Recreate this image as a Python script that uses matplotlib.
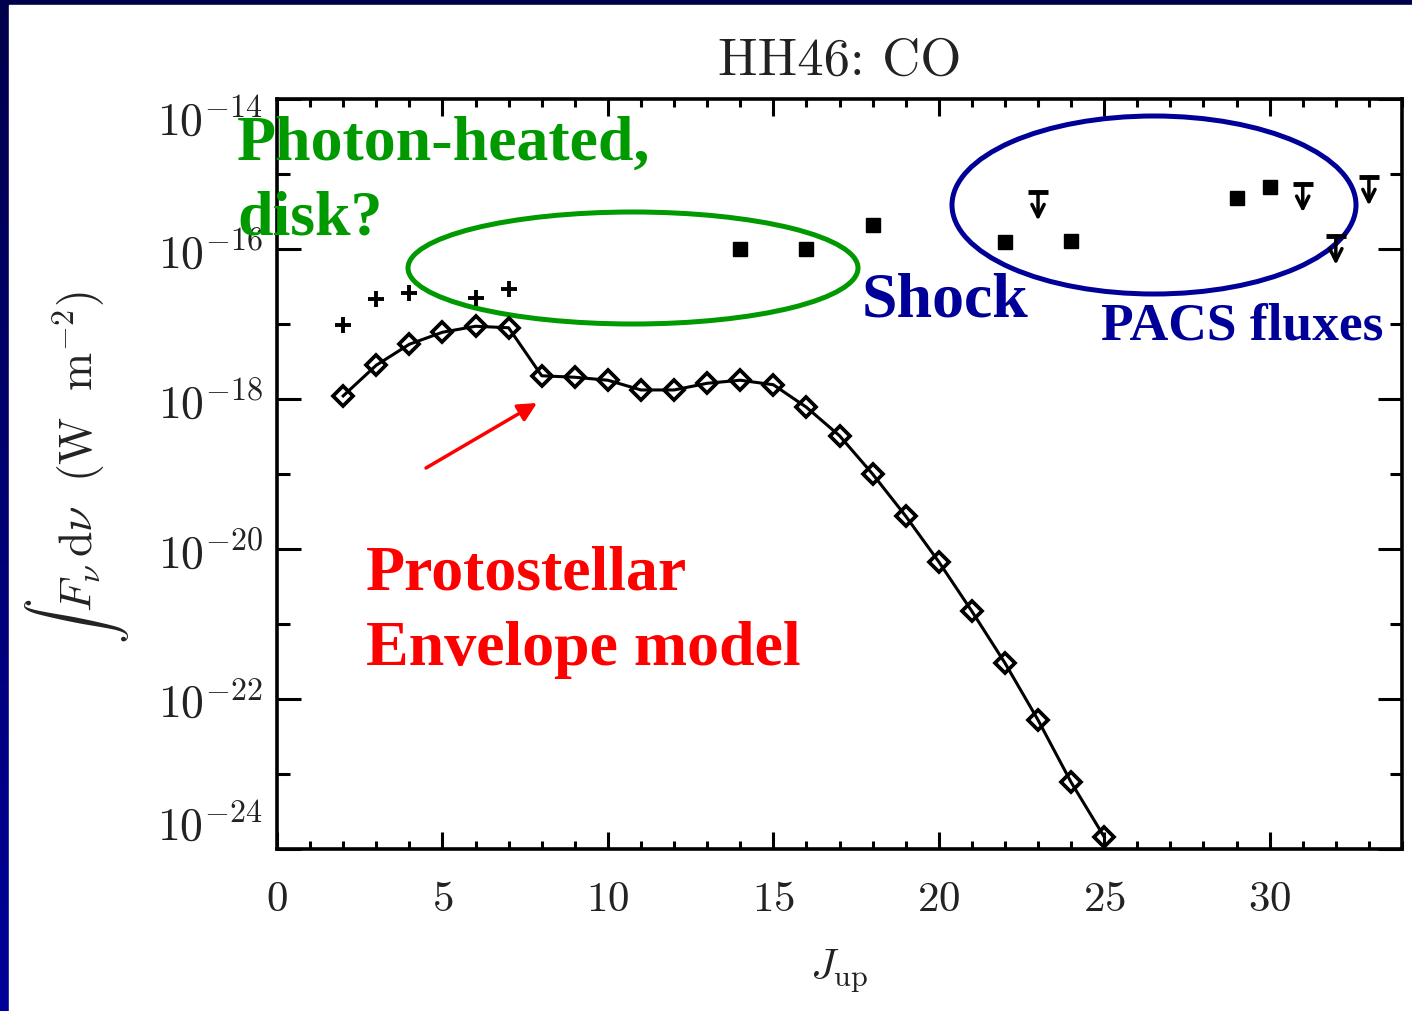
import numpy as np
import matplotlib.pyplot as plt
from matplotlib.patches import Ellipse, Rectangle
from matplotlib.colors import LinearSegmentedColormap
from matplotlib.ticker import FixedLocator, NullFormatter, MultipleLocator

plt.rcParams['mathtext.fontset'] = 'cm'

# Envelope model (connected diamonds)
j_model = [2, 3, 4, 5, 6, 7, 8, 9, 10, 11, 12, 13, 14, 15, 16, 17, 18, 19, 20, 21, 22, 23, 24, 25]
flux_model = [1.10e-18, 2.82e-18, 5.37e-18, 7.76e-18, 9.33e-18, 8.91e-18, 2.04e-18, 1.95e-18,
              1.78e-18, 1.32e-18, 1.32e-18, 1.62e-18, 1.78e-18, 1.55e-18, 7.76e-19, 3.24e-19,
              1.00e-19, 2.75e-20, 6.76e-21, 1.48e-21, 3.02e-22, 5.25e-23, 7.76e-24, 1.45e-24]

# Ground-based low-J observations (+)
j_ground = [2, 3, 4, 6, 7]
flux_ground = [9.8e-18, 2.14e-17, 2.57e-17, 2.24e-17, 2.95e-17]

# PACS detections (filled squares)
j_pacs = [14, 16, 18, 22, 24, 29, 30]
flux_pacs = [1.0e-16, 1.0e-16, 2.09e-16, 1.23e-16, 1.29e-16, 4.79e-16, 6.76e-16]

# PACS upper limits
j_lim = [23, 31, 32, 33]
flux_lim = [5.75e-16, 7.41e-16, 1.48e-16, 9.12e-16]

y_major = [1e-24, 1e-22, 1e-20, 1e-18, 1e-16, 1e-14]
y_major_labels = [r'$10^{-24}$', r'$10^{-22}$', r'$10^{-20}$', r'$10^{-18}$', r'$10^{-16}$', r'$10^{-14}$']
y_minor = [1e-23, 1e-21, 1e-19, 1e-17, 1e-15]
x_major = [0, 5, 10, 15, 20, 25, 30]

W, H = 1412, 1012
AX_L, AX_R, AX_T, AX_B = 277, 1402, 100, 850


def px(x, y):
    # pixel position in the picture -> axes fraction
    return (x - AX_L) / (AX_R - AX_L), (AX_B - y) / (AX_B - AX_T)


fig = plt.figure(figsize=(W / 100, H / 100), dpi=100)

# dark blue slide border
bg = fig.add_axes([0, 0, 1, 1], zorder=-10)
bg.set_axis_off()
cmap = LinearSegmentedColormap.from_list('border', ['#000099', '#00004c'])
bg.imshow(np.linspace(0, 1, 256).reshape(-1, 1), cmap=cmap, extent=[0, 1, 0, 1],
          aspect='auto', origin='lower')
bg.add_patch(Rectangle((9 / W, 0), 1, 1 - 6 / H, color='white'))
bg.set_xlim(0, 1)
bg.set_ylim(0, 1)

ax = fig.add_axes([AX_L / W, 1 - AX_B / H, (AX_R - AX_L) / W, (AX_B - AX_T) / H])
ax.set_yscale('log')
ax.set_xlim(0, 34)
ax.set_ylim(1e-24, 1e-14)

ax.plot(j_model, flux_model, color='black', lw=2.2, marker='D', ms=10, mfc='none',
        mec='black', mew=2.7, clip_on=False, zorder=3)
ax.plot(j_ground, flux_ground, ls='none', marker='+', ms=12, mew=2.8, color='black')
ax.plot(j_pacs, flux_pacs, ls='none', marker='s', ms=10, color='black')
ax.plot(j_lim, flux_lim, ls='none', marker='_', ms=14, mew=3.5, color='black')
for j, f in zip(j_lim, flux_lim):
    ax.annotate('', xy=(j, f * 10 ** -0.38), xytext=(j, f),
                arrowprops=dict(arrowstyle='->', color='black', lw=2.5, mutation_scale=22,
                                shrinkA=0, shrinkB=0))

# ticks
ax.set_yticks(y_major)
ax.set_yticklabels(y_major_labels)
ax.yaxis.set_minor_locator(FixedLocator(y_minor))
ax.yaxis.set_minor_formatter(NullFormatter())
ax.set_xticks(x_major)
ax.set_xticklabels([r'$%d$' % v for v in x_major])
ax.xaxis.set_minor_locator(MultipleLocator(1))
ax.tick_params(which='both', direction='in', top=True, right=True, width=2.2,
               labelsize=31, labelcolor='#222222')
ax.tick_params(axis='y', which='major', length=17, pad=10, labelsize=33)
ax.tick_params(axis='y', which='minor', length=9)
ax.tick_params(axis='x', which='major', length=12, pad=20)
ax.tick_params(axis='x', which='minor', length=6)
labs = ax.get_yticklabels()
labs[0].set_va('bottom')
labs[-1].set_va('top')
for s in ax.spines.values():
    s.set_linewidth(2.6)

ax.set_title('HH46: CO', family='cmr10', fontsize=38, pad=18, color='#222222')
ax.set_xlabel(r'$J_{\rm up}$', fontsize=31, color='#222222')
ax.xaxis.set_label_coords(0.5, -0.13)
ax.set_ylabel(r'$\int\, F_\nu\,{\rm d}\nu\ \ ({\rm W\ \ m}^{-2})$', fontsize=33, color='#222222')
ax.yaxis.set_label_coords(-0.13, 0.51)

# annotations
green = '#009900'
navy = '#000099'
red = '#ff0000'
tf = dict(family='Liberation Serif', weight='bold', transform=ax.transAxes,
          va='baseline', ha='left', clip_on=False)
ax.text(*px(237, 160), 'Photon-heated,', color=green, fontsize=46, **tf)
ax.text(*px(237, 235), 'disk?', color=green, fontsize=46, **tf)
ax.text(*px(862, 317), 'Shock', color=navy, fontsize=46, **tf)
ax.text(*px(1101, 340), 'PACS fluxes', color=navy, fontsize=38.5, **tf)
ax.text(*px(366, 590), 'Protostellar', color=red, fontsize=46, **tf)
ax.text(*px(366, 665), 'Envelope model', color=red, fontsize=46, **tf)

ax.add_patch(Ellipse(px(633, 269), 450 / 1125, 112 / 750, transform=ax.transAxes,
                     fill=False, ec=green, lw=3.6, clip_on=False))
ax.add_patch(Ellipse(px(1154, 206), 404 / 1125, 178 / 750, transform=ax.transAxes,
                     fill=False, ec=navy, lw=3.6, clip_on=False))
ax.annotate('', xy=px(537, 404), xytext=px(426, 469), xycoords='axes fraction',
            textcoords='axes fraction',
            arrowprops=dict(arrowstyle='-|>', color=red, lw=2.5, mutation_scale=28,
                            shrinkA=0, shrinkB=0))

fig.savefig('out.png', dpi=100)
